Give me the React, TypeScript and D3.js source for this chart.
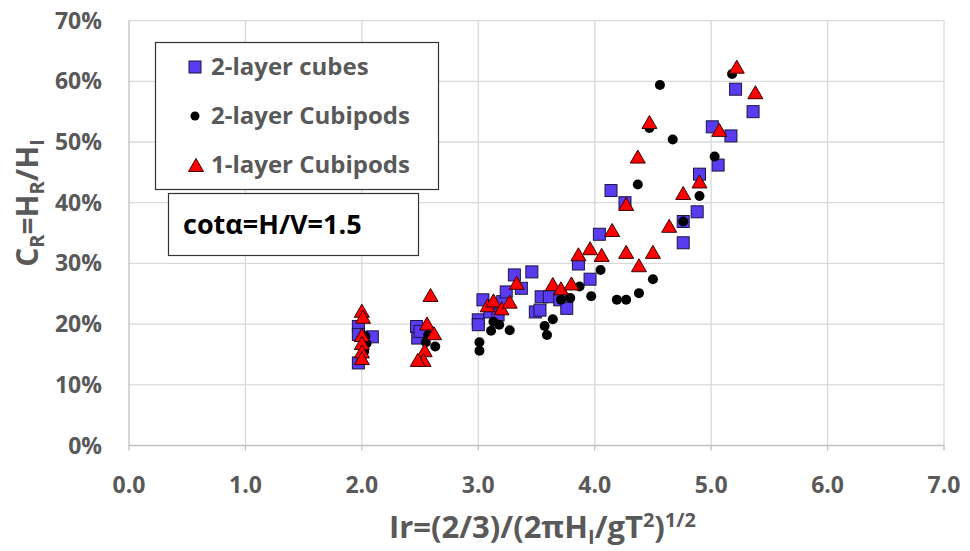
import React, { useEffect, useRef } from 'react';
import * as d3 from 'd3';

// ---- data (x = Ir, y = C_R in %) ----
const cubes: [number, number][] = [
  [1.97, 19.6], [1.97, 18.3], [2.09, 17.9], [1.97, 13.6],
  [2.47, 19.6], [2.48, 17.7], [2.50, 18.8],
  [3.00, 20.7], [3.00, 19.9], [3.04, 24.0], [3.10, 22.0], [3.17, 21.5], [3.21, 23.7],
  [3.24, 25.3], [3.31, 28.1], [3.37, 25.9], [3.46, 28.6],
  [3.49, 22.0], [3.53, 22.3], [3.54, 24.5], [3.61, 24.5], [3.70, 24.0], [3.76, 22.6],
  [3.86, 29.9], [3.96, 27.4],
  [4.04, 34.8], [4.14, 42.0], [4.26, 40.0], [4.76, 36.9], [4.88, 38.5], [4.76, 33.4],
  [4.90, 44.7], [5.06, 46.2], [5.01, 52.5], [5.17, 51.0], [5.21, 58.7], [5.36, 55.0],
];

const cubipods2: [number, number][] = [
  [2.03, 18.0], [2.04, 16.8], [2.02, 15.5],
  [2.57, 18.2], [2.63, 16.3], [2.55, 17.0],
  [3.01, 15.6], [3.01, 17.0], [3.11, 18.9], [3.13, 20.4], [3.18, 19.9], [3.27, 19.0],
  [3.57, 19.7], [3.59, 18.2], [3.64, 20.8], [3.71, 24.0], [3.79, 24.3], [3.87, 26.2],
  [3.97, 24.6], [4.05, 28.9],
  [4.19, 24.0], [4.27, 24.0], [4.38, 25.1], [4.50, 27.4], [4.37, 43.0], [4.76, 36.9],
  [4.90, 41.1], [5.03, 47.6], [4.67, 50.4], [4.47, 52.3], [4.56, 59.4], [5.18, 61.2],
];

const cubipods1: [number, number][] = [
  [2.00, 22.2], [2.01, 21.2], [2.00, 18.2], [2.00, 16.9], [2.00, 15.5], [2.00, 14.4],
  [2.59, 24.8], [2.56, 20.1], [2.62, 18.5], [2.54, 15.7], [2.53, 14.1], [2.48, 14.1],
  [3.08, 23.1], [3.13, 23.9], [3.20, 22.6], [3.27, 23.7], [3.33, 26.8],
  [3.64, 26.6], [3.71, 25.9], [3.80, 26.7], [3.86, 31.5], [3.96, 32.5], [4.06, 31.4],
  [4.15, 35.5], [4.27, 39.8], [4.27, 31.9], [4.38, 29.7], [4.50, 31.9], [4.64, 36.2],
  [4.76, 41.6], [4.90, 43.5], [4.37, 47.6], [4.47, 53.3], [5.07, 52.0], [5.22, 62.4],
  [5.38, 58.2],
];

const xTicks = [0, 1, 2, 3, 4, 5, 6, 7];
const yTicks = [0, 10, 20, 30, 40, 50, 60, 70];
const legendLabels = ['2-layer cubes', '2-layer Cubipods', '1-layer Cubipods'];

export default function App() {
  const ref = useRef<SVGSVGElement>(null);
  const width = 970;
  const height = 551;
  const margin = { top: 20.6, right: 26, bottom: 105.5, left: 129 };
  const grey = '#595959';
  const font = '"Open Sans", sans-serif';

  useEffect(() => {
    const svg = d3.select(ref.current);
    svg.selectAll('*').remove();
    svg.append('rect').attr('width', width).attr('height', height).attr('fill', '#fff');

    const x = d3.scaleLinear().domain([0, 7]).range([margin.left, width - margin.right]);
    const y = d3.scaleLinear().domain([0, 70]).range([height - margin.bottom, margin.top]);

    // ---------- grid ----------
    svg.append('g').selectAll('line').data(yTicks.slice(1)).join('line')
      .attr('x1', x(0)).attr('x2', x(7))
      .attr('y1', (d) => y(d)).attr('y2', (d) => y(d))
      .attr('stroke', '#d9d9d9').attr('stroke-width', 1.3);
    svg.append('g').selectAll('line').data(xTicks.slice(1)).join('line')
      .attr('x1', (d) => x(d)).attr('x2', (d) => x(d))
      .attr('y1', y(0)).attr('y2', y(70))
      .attr('stroke', '#d9d9d9').attr('stroke-width', 1.3);

    // axis lines
    svg.append('line').attr('x1', x(0)).attr('x2', x(7)).attr('y1', y(0)).attr('y2', y(0))
      .attr('stroke', '#bfbfbf').attr('stroke-width', 1.3);
    svg.append('line').attr('x1', x(0)).attr('x2', x(0)).attr('y1', y(0)).attr('y2', y(70))
      .attr('stroke', '#bfbfbf').attr('stroke-width', 1.3);
    svg.append('g').selectAll('line').data(xTicks).join('line')
      .attr('x1', (d) => x(d)).attr('x2', (d) => x(d))
      .attr('y1', y(0)).attr('y2', y(0) + 5)
      .attr('stroke', '#bfbfbf').attr('stroke-width', 1.3);

    // tick labels
    svg.append('g').selectAll('text').data(yTicks).join('text')
      .attr('x', 102).attr('y', (d) => y(d)).attr('dy', '0.35em')
      .attr('text-anchor', 'end')
      .attr('font-family', font).attr('font-weight', 700).attr('font-size', 23)
      .attr('fill', grey)
      .text((d) => `${d}%`);
    svg.append('g').selectAll('text').data(xTicks).join('text')
      .attr('x', (d) => x(d)).attr('y', 493)
      .attr('text-anchor', 'middle')
      .attr('font-family', font).attr('font-weight', 700).attr('font-size', 23)
      .attr('fill', grey)
      .text((d) => d3.format('.1f')(d));

    // ---------- axis titles ----------
    const yTitle = svg.append('text')
      .attr('transform', `translate(38,${(y(0) + y(70)) / 2 - 30}) rotate(-90)`)
      .attr('text-anchor', 'middle')
      .attr('font-family', font).attr('font-weight', 700).attr('font-size', 30)
      .attr('fill', grey);
    yTitle.append('tspan').text('C');
    yTitle.append('tspan').text('R').attr('font-size', 20).attr('dy', 6);
    yTitle.append('tspan').text('=H').attr('dy', -6);
    yTitle.append('tspan').text('R').attr('font-size', 20).attr('dy', 6);
    yTitle.append('tspan').text('/H').attr('dy', -6);
    yTitle.append('tspan').text('I').attr('font-size', 20).attr('dy', 6);

    const xTitle = svg.append('text')
      .attr('x', (x(0) + x(7)) / 2 + 6).attr('y', 538)
      .attr('text-anchor', 'middle')
      .attr('font-family', font).attr('font-weight', 700).attr('font-size', 31)
      .attr('fill', grey);
    xTitle.append('tspan').text('Ir=(2/3)/(2πH');
    xTitle.append('tspan').text('I').attr('font-size', 20).attr('dy', 6);
    xTitle.append('tspan').text('/gT').attr('dy', -6);
    xTitle.append('tspan').text('2').attr('font-size', 20).attr('dy', -11);
    xTitle.append('tspan').text(')').attr('dy', 11);
    xTitle.append('tspan').text('1/2').attr('font-size', 20).attr('dy', -11);

    // ---------- markers ----------
    const sq = 12;
    svg.append('g').selectAll('rect').data(cubes).join('rect')
      .attr('x', (d) => x(d[0]) - sq / 2).attr('y', (d) => y(d[1]) - sq / 2)
      .attr('width', sq).attr('height', sq)
      .attr('fill', '#5a3cf0').attr('stroke', '#1a1540').attr('stroke-width', 1);

    svg.append('g').selectAll('circle').data(cubipods2).join('circle')
      .attr('cx', (d) => x(d[0])).attr('cy', (d) => y(d[1])).attr('r', 5)
      .attr('fill', '#000');

    const tw = 15, th = 13;
    const tri = (cx: number, cy: number) =>
      `M${cx},${cy - th / 2}L${cx + tw / 2},${cy + th / 2}L${cx - tw / 2},${cy + th / 2}Z`;
    svg.append('g').selectAll('path').data(cubipods1).join('path')
      .attr('d', (d) => tri(x(d[0]), y(d[1])))
      .attr('fill', '#ff0000').attr('stroke', '#3a0000').attr('stroke-width', 1);

    // ---------- legend ----------
    svg.append('rect').attr('x', 155.5).attr('y', 42.5).attr('width', 283).attr('height', 147)
      .attr('fill', '#fff').attr('stroke', '#333').attr('stroke-width', 1.2);
    const rows = [67, 116, 165];
    const lg = svg.append('g');
    lg.append('rect').attr('x', 195 - 6).attr('y', rows[0] - 6).attr('width', 12).attr('height', 12)
      .attr('fill', '#5a3cf0').attr('stroke', '#1a1540');
    lg.append('circle').attr('cx', 195).attr('cy', rows[1]).attr('r', 4.5).attr('fill', '#000');
    lg.append('path').attr('d', tri(196, rows[2])).attr('fill', '#ff0000').attr('stroke', '#3a0000');
    lg.selectAll('text').data(legendLabels).join('text')
      .attr('x', 211).attr('y', (d, i) => rows[i]).attr('dy', '0.35em')
      .attr('font-family', font).attr('font-weight', 700).attr('font-size', 24)
      .attr('fill', grey)
      .text((d) => d);

    // annotation box
    svg.append('rect').attr('x', 168.5).attr('y', 193.5).attr('width', 250).attr('height', 62)
      .attr('fill', '#fff').attr('stroke', '#333').attr('stroke-width', 1.2);
    svg.append('text').attr('x', 183).attr('y', 225).attr('dy', '0.35em')
      .attr('font-family', font).attr('font-weight', 700).attr('font-size', 27)
      .attr('fill', '#000')
      .text('cotα=H/V=1.5');
  }, []);

  return (
    <svg ref={ref} width={width} height={height}
      style={{ position: 'absolute', left: 0, top: 0, display: 'block' }} />
  );
}
